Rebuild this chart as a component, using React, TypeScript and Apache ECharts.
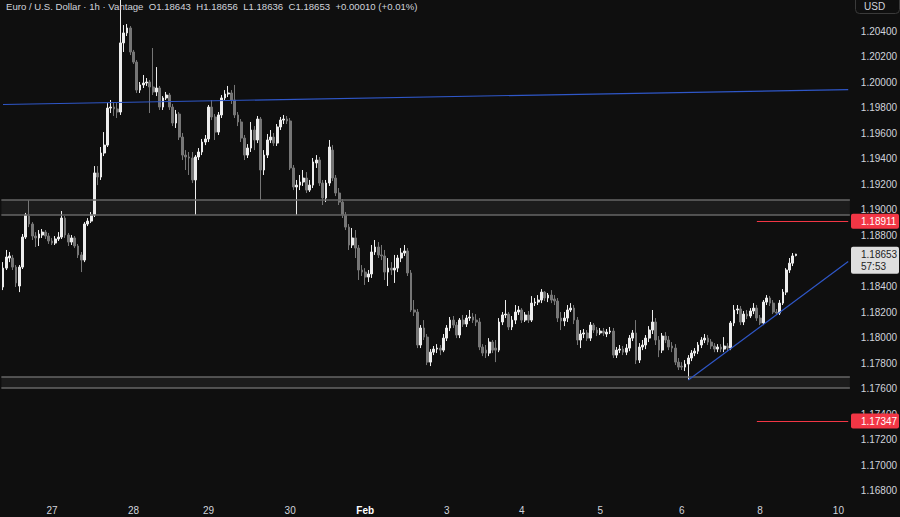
import React, { useEffect, useRef } from 'react';
import * as echarts from 'echarts';

// [open, close, low, high] hourly candles, EUR/USD
const candles: number[][] = [
  [1.18396,1.18544,1.18372,1.18591],[1.18544,1.18631,1.18529,1.18686],[1.18623,1.18639,1.18591,1.18670],[1.18623,1.18552,1.18529,1.18647],
  [1.18552,1.18428,1.18396,1.18568],[1.18404,1.18552,1.18356,1.18568],[1.18552,1.18787,1.18537,1.18811],[1.18787,1.18960,1.18772,1.18976],
  [1.18952,1.18889,1.18865,1.19077],[1.18889,1.18795,1.18764,1.18904],[1.18795,1.18780,1.18709,1.18826],[1.18780,1.18811,1.18717,1.18842],
  [1.18803,1.18826,1.18780,1.18850],[1.18826,1.18795,1.18772,1.18842],[1.18795,1.18756,1.18733,1.18819],[1.18756,1.18740,1.18725,1.18780],
  [1.18740,1.18772,1.18725,1.18795],[1.18772,1.18787,1.18756,1.18826],[1.18787,1.18936,1.18772,1.18991],[1.18936,1.18803,1.18780,1.18952],
  [1.18803,1.18748,1.18717,1.18819],[1.18748,1.18780,1.18725,1.18803],[1.18780,1.18717,1.18701,1.18795],[1.18717,1.18647,1.18623,1.18733],
  [1.18647,1.18607,1.18513,1.18670],[1.18607,1.18889,1.18591,1.18904],[1.18889,1.18912,1.18873,1.18936],[1.18912,1.18960,1.18897,1.18983],
  [1.18960,1.19289,1.18944,1.19343],[1.19289,1.19257,1.19194,1.19343],[1.19257,1.19445,1.19234,1.19492],[1.19445,1.19507,1.19421,1.19609],
  [1.19507,1.19797,1.19492,1.19836],[1.19797,1.19805,1.19758,1.19860],[1.19805,1.19790,1.19735,1.19844],[1.19790,1.19766,1.19719,1.19836],
  [1.19766,1.20307,1.19743,1.20650],[1.20307,1.20385,1.20236,1.20447],[1.20385,1.20424,1.20361,1.20455],[1.20424,1.20236,1.20212,1.20439],
  [1.20236,1.20157,1.20142,1.20252],[1.20157,1.19938,1.19915,1.20173],[1.19938,1.19978,1.19915,1.20001],[1.19978,1.19993,1.19954,1.20056],
  [1.19993,1.20001,1.19970,1.20032],[1.20001,1.19962,1.19758,1.20017],[1.19962,1.19923,1.19899,1.20267],[1.19923,1.19954,1.19891,1.20118],
  [1.19954,1.19805,1.19782,1.19970],[1.19805,1.19876,1.19782,1.19891],[1.19876,1.19899,1.19860,1.19923],[1.19899,1.19805,1.19782,1.19915],
  [1.19805,1.19680,1.19656,1.19829],[1.19680,1.19750,1.19641,1.19782],[1.19750,1.19570,1.19547,1.19766],[1.19570,1.19429,1.19390,1.19602],
  [1.19429,1.19414,1.19312,1.19468],[1.19414,1.19406,1.19273,1.19453],[1.19406,1.19234,1.19210,1.19453],[1.19234,1.19414,1.18960,1.19429],
  [1.19414,1.19453,1.19390,1.19484],[1.19453,1.19531,1.19429,1.19555],[1.19531,1.19555,1.19507,1.19586],[1.19555,1.19805,1.19531,1.19821],
  [1.19805,1.19727,1.19703,1.19860],[1.19727,1.19609,1.19547,1.19750],[1.19609,1.19743,1.19586,1.19766],[1.19743,1.19876,1.19719,1.19899],
  [1.19876,1.19907,1.19860,1.19938],[1.19907,1.19915,1.19883,1.19970],[1.19915,1.19860,1.19829,1.19938],[1.19860,1.19743,1.19719,1.19978],
  [1.19743,1.19688,1.19656,1.19766],[1.19688,1.19562,1.19531,1.19711],[1.19562,1.19429,1.19390,1.19586],[1.19429,1.19484,1.19406,1.19515],
  [1.19484,1.19625,1.19453,1.19688],[1.19625,1.19547,1.19468,1.19656],[1.19547,1.19711,1.19523,1.19735],[1.19711,1.19312,1.19077,1.19727],
  [1.19312,1.19429,1.19273,1.19468],[1.19429,1.19547,1.19406,1.19594],[1.19547,1.19570,1.19523,1.19625],[1.19570,1.19523,1.19500,1.19602],
  [1.19523,1.19649,1.19500,1.19672],[1.19649,1.19703,1.19625,1.19727],[1.19703,1.19711,1.19672,1.19743],[1.19711,1.19696,1.19672,1.19735],
  [1.19696,1.19328,1.19312,1.19719],[1.19328,1.19179,1.19155,1.19351],[1.19179,1.19194,1.18960,1.19234],[1.19194,1.19218,1.19155,1.19273],
  [1.19218,1.19249,1.19187,1.19312],[1.19249,1.19155,1.19132,1.19296],[1.19155,1.19194,1.19140,1.19234],[1.19194,1.19375,1.19171,1.19406],
  [1.19367,1.19390,1.19328,1.19429],[1.19390,1.19210,1.19187,1.19414],[1.19210,1.19093,1.19038,1.19234],[1.19093,1.19210,1.19061,1.19234],
  [1.19210,1.19492,1.19187,1.19547],[1.19468,1.19249,1.19226,1.19507],[1.19249,1.19132,1.19108,1.19273],[1.19132,1.19061,1.19038,1.19171],
  [1.19061,1.18960,1.18936,1.19085],[1.18960,1.18865,1.18842,1.18983],[1.18865,1.18725,1.18686,1.18889],[1.18725,1.18780,1.18701,1.18858],
  [1.18780,1.18701,1.18623,1.18842],[1.18701,1.18529,1.18451,1.18725],[1.18529,1.18513,1.18482,1.18568],[1.18513,1.18474,1.18412,1.18544],
  [1.18474,1.18498,1.18435,1.18529],[1.18498,1.18670,1.18467,1.18725],[1.18670,1.18709,1.18647,1.18764],[1.18709,1.18647,1.18623,1.18748],
  [1.18647,1.18639,1.18607,1.18725],[1.18639,1.18513,1.18451,1.18686],[1.18513,1.18544,1.18404,1.18623],[1.18544,1.18529,1.18490,1.18591],
  [1.18529,1.18544,1.18428,1.18647],[1.18544,1.18623,1.18513,1.18647],[1.18623,1.18662,1.18591,1.18701],[1.18662,1.18678,1.18639,1.18725],
  [1.18678,1.18506,1.18482,1.18701],[1.18506,1.18216,1.18200,1.18529],[1.18216,1.18200,1.18169,1.18294],[1.18200,1.17942,1.17918,1.18224],
  [1.17942,1.18075,1.17918,1.18098],[1.18075,1.18004,1.17981,1.18137],[1.18004,1.17808,1.17785,1.18028],[1.17808,1.17886,1.17777,1.17910],
  [1.17886,1.17910,1.17863,1.17934],[1.17910,1.17918,1.17879,1.17949],[1.17918,1.17902,1.17863,1.17942],[1.17902,1.17996,1.17886,1.18028],
  [1.17996,1.18075,1.17973,1.18098],[1.18075,1.18137,1.18051,1.18161],[1.18137,1.18098,1.18075,1.18169],[1.18098,1.18020,1.17996,1.18122],
  [1.18020,1.18137,1.17996,1.18153],[1.18137,1.18106,1.18083,1.18177],[1.18106,1.18153,1.18083,1.18177],[1.18153,1.18161,1.18130,1.18216],
  [1.18161,1.18137,1.18114,1.18192],[1.18137,1.18122,1.18090,1.18184],[1.18122,1.17926,1.17902,1.18153],[1.17926,1.17879,1.17855,1.17949],
  [1.17902,1.17879,1.17840,1.17942],[1.17879,1.17965,1.17855,1.17996],[1.17965,1.17902,1.17879,1.17981],[1.17918,1.17902,1.17808,1.17981],
  [1.17902,1.18122,1.17886,1.18153],[1.18122,1.18177,1.18098,1.18200],[1.18177,1.18184,1.18153,1.18294],[1.18184,1.18083,1.18059,1.18200],
  [1.18083,1.18137,1.18059,1.18169],[1.18137,1.18200,1.18106,1.18255],[1.18200,1.18216,1.18177,1.18247],[1.18216,1.18137,1.18114,1.18231],
  [1.18137,1.18177,1.18122,1.18200],[1.18177,1.18137,1.18114,1.18208],[1.18137,1.18270,1.18122,1.18325],[1.18270,1.18278,1.18247,1.18310],
  [1.18278,1.18294,1.18255,1.18333],[1.18294,1.18356,1.18270,1.18380],[1.18356,1.18310,1.18286,1.18364],[1.18310,1.18333,1.18278,1.18349],
  [1.18333,1.18294,1.18270,1.18372],[1.18302,1.18286,1.18255,1.18333],[1.18286,1.18153,1.18122,1.18310],[1.18153,1.18130,1.18059,1.18200],
  [1.18130,1.18153,1.18090,1.18200],[1.18153,1.18216,1.18122,1.18255],[1.18216,1.18231,1.18200,1.18270],[1.18231,1.18137,1.18106,1.18255],
  [1.18137,1.17981,1.17942,1.18161],[1.17981,1.18028,1.17918,1.18059],[1.18028,1.18036,1.17996,1.18067],[1.18036,1.17996,1.17973,1.18059],
  [1.17996,1.18098,1.17973,1.18122],[1.18098,1.18059,1.18036,1.18114],[1.18059,1.18036,1.18012,1.18083],[1.18036,1.18051,1.18020,1.18075],
  [1.18051,1.18036,1.18012,1.18075],[1.18028,1.18043,1.18004,1.18067],[1.18043,1.18051,1.18028,1.18083],[1.18051,1.17863,1.17840,1.18075],
  [1.17863,1.17902,1.17840,1.17926],[1.17902,1.17910,1.17879,1.17942],[1.17910,1.17886,1.17863,1.17934],[1.17886,1.17918,1.17863,1.17949],
  [1.17918,1.17996,1.17894,1.18020],[1.17996,1.18036,1.17973,1.18059],[1.18036,1.17824,1.17793,1.18137],[1.17824,1.17926,1.17801,1.17957],
  [1.17926,1.17942,1.17902,1.17981],[1.17942,1.17996,1.17910,1.18020],[1.17996,1.18059,1.17965,1.18090],[1.18059,1.18122,1.18028,1.18216],
  [1.18122,1.17981,1.17942,1.18153],[1.17981,1.17902,1.17847,1.18012],[1.17902,1.18012,1.17879,1.18036],[1.18012,1.17981,1.17957,1.18043],
  [1.17981,1.17926,1.17902,1.18012],[1.17934,1.17918,1.17886,1.17965],[1.17918,1.17808,1.17785,1.17949],[1.17808,1.17769,1.17746,1.17840],
  [1.17777,1.17769,1.17746,1.17808],[1.17769,1.17793,1.17738,1.17824],[1.17793,1.17840,1.17668,1.17863],[1.17840,1.17879,1.17816,1.17902],
  [1.17879,1.17894,1.17855,1.17918],[1.17894,1.17942,1.17871,1.17965],[1.17942,1.17981,1.17918,1.18004],[1.17981,1.17996,1.17957,1.18028],
  [1.17996,1.17965,1.17942,1.18020],[1.17965,1.17934,1.17910,1.17989],[1.17934,1.17910,1.17886,1.17957],[1.17910,1.17926,1.17886,1.17949],
  [1.17926,1.17910,1.17886,1.17949],[1.17910,1.17934,1.17886,1.18004],[1.17934,1.17918,1.17894,1.17957],[1.17918,1.18114,1.17902,1.18130],
  [1.18114,1.18216,1.18090,1.18255],[1.18216,1.18224,1.18184,1.18255],[1.18224,1.18122,1.18098,1.18247],[1.18122,1.18184,1.18098,1.18208],
  [1.18184,1.18169,1.18145,1.18216],[1.18169,1.18208,1.18153,1.18231],[1.18208,1.18231,1.18184,1.18270],[1.18231,1.18153,1.18130,1.18255],
  [1.18153,1.18114,1.18098,1.18177],[1.18114,1.18278,1.18098,1.18294],[1.18278,1.18310,1.18255,1.18333],[1.18310,1.18270,1.18247,1.18325],
  [1.18270,1.18200,1.18184,1.18294],[1.18200,1.18192,1.18177,1.18224],[1.18192,1.18270,1.18177,1.18294],[1.18270,1.18356,1.18255,1.18380],
  [1.18356,1.18529,1.18333,1.18544],[1.18529,1.18583,1.18506,1.18623],[1.18583,1.18639,1.18560,1.18662],[1.18643,1.18653,1.18636,1.18656],
];

const slotCount = 260;
const tickIndex = [15, 40, 63, 88, 111, 136, 159, 183, 208, 232, 256];
const tickLabel = ['27', '28', '29', '30', 'Feb', '3', '4', '5', '6', '8', '10'];
const priceTicks = [1.168, 1.17, 1.172, 1.174, 1.176, 1.178, 1.18, 1.182, 1.184, 1.188, 1.19, 1.192, 1.194, 1.196, 1.198, 1.2, 1.202, 1.204];
const yMin = 1.16752;
const yMax = 1.20643;

const zoneUpper = [1.19077, 1.1896];
const zoneLower = [1.17691, 1.17605];
const resistanceLine = [[0, 1.19825], [259, 1.19942]];
const trendLine = [[210, 1.17668], [259, 1.18595]];
const alertLevels = [1.18911, 1.17347];
const alertStart = 231;

const lastOpen = 1.18643;
const lastHigh = 1.18656;
const lastLow = 1.18636;
const lastClose = 1.18653;
const lastChange = 0.0001;
const lastChangePct = 0.01;
const countdown = '57:53';

const FONT = '"Liberation Sans", Arial, sans-serif';
const BG = '#0f0f0f';
const UP = '#ededed';
const DOWN = '#767676';
const ZONE_LINE = '#666666';
const BLUE = '#2f57c8';
const RED = '#f23645';
const TEXT = '#d1d4dc';

export default function App() {
  const ref = useRef<HTMLDivElement>(null);

  useEffect(() => {
    if (!ref.current) return;
    const chart = echarts.init(ref.current, undefined, { renderer: 'svg' });
    const categories = Array.from({ length: slotCount }, (_, i) => String(i));
    const tickMap = new Map<number, string>();
    tickIndex.forEach((idx, k) => tickMap.set(idx, tickLabel[k]));

    const zoneLineStyle = { color: ZONE_LINE, width: 1.5, type: 'solid' as const };

    const option: any = {
      animation: false,
      backgroundColor: BG,
      textStyle: { fontFamily: FONT },
      grid: { left: 0, right: 50, top: 0, bottom: 20, containLabel: false },
      xAxis: {
        type: 'category',
        data: categories,
        boundaryGap: true,
        axisLine: { show: false },
        axisTick: { show: false },
        splitLine: { show: false },
        axisLabel: {
          interval: 0,
          color: TEXT,
          fontSize: 10,
          margin: 8,
          formatter: (_v: string, idx: number) => {
            const t = tickMap.get(idx);
            if (!t) return '';
            return t === 'Feb' ? '{b|Feb}' : t;
          },
          rich: { b: { color: '#ffffff', fontWeight: 'bold', fontSize: 10, fontFamily: FONT } },
        },
      },
      yAxis: {
        type: 'value',
        position: 'right',
        min: yMin,
        max: yMax,
        axisLine: { show: false },
        axisTick: { show: false },
        splitLine: { show: false },
        axisLabel: {
          customValues: priceTicks,
          formatter: (v: number) => v.toFixed(5),
          color: TEXT,
          fontSize: 10,
          margin: 11,
          align: 'left',
        },
      },
      series: [
        {
          type: 'candlestick',
          data: candles,
          barWidth: '70%',
          itemStyle: {
            color: UP,
            color0: DOWN,
            borderColor: UP,
            borderColor0: DOWN,
            borderWidth: 1,
          },
          markArea: {
            silent: true,
            itemStyle: { color: '#1c1c1c' },
            data: [
              [{ yAxis: zoneUpper[0] }, { yAxis: zoneUpper[1] }],
              [{ yAxis: zoneLower[0] }, { yAxis: zoneLower[1] }],
            ],
          },
          markLine: {
            silent: true,
            precision: 6,
            symbol: ['none', 'none'],
            label: { show: false },
            data: [
              ...[...zoneUpper, ...zoneLower].map((v) => ({ yAxis: v, lineStyle: zoneLineStyle })),
              [
                { xAxis: resistanceLine[0][0], yAxis: resistanceLine[0][1], lineStyle: { color: BLUE, width: 1.2, type: 'solid' } },
                { xAxis: resistanceLine[1][0], yAxis: resistanceLine[1][1] },
              ],
              [
                { xAxis: trendLine[0][0], yAxis: trendLine[0][1], lineStyle: { color: BLUE, width: 1.2, type: 'solid' } },
                { xAxis: trendLine[1][0], yAxis: trendLine[1][1] },
              ],
              ...alertLevels.map((v) => [
                { xAxis: alertStart, yAxis: v, lineStyle: { color: RED, width: 1, type: 'solid' } },
                { xAxis: slotCount - 1, yAxis: v },
              ]),
            ],
          },
        },
      ],
    };
    chart.setOption(option);

    const yOf = (p: number) => chart.convertToPixel({ yAxisIndex: 0 }, p) as number;
    const fmt = (v: number) => v.toFixed(5);
    const title =
      `Euro / U.S. Dollar · 1h · Vantage  O${fmt(lastOpen)}  H${fmt(lastHigh)}  L${fmt(lastLow)}  C${fmt(lastClose)}  ` +
      `${lastChange >= 0 ? '+' : ''}${fmt(lastChange)} (${lastChange >= 0 ? '+' : ''}${lastChangePct.toFixed(2)}%)`;

    const graphics: any[] = [
      {
        type: 'text', left: 6, top: 1, z: 100,
        style: { text: title, fill: TEXT, font: `9.6px ${FONT}` },
      },
      {
        type: 'rect', z: 100,
        shape: { x: 855.5, y: -4.5, width: 44, height: 18, r: 4 },
        style: { fill: BG, stroke: '#3a3a3a', lineWidth: 1 },
      },
      {
        type: 'text', z: 101, x: 864, y: 1,
        style: { text: 'USD', fill: TEXT, font: `10px ${FONT}` },
      },
    ];
    alertLevels.forEach((v) => {
      const py = yOf(v);
      graphics.push({
        type: 'rect', z: 100,
        shape: { x: 851, y: py - 7.5, width: 48, height: 15, r: 2 },
        style: { fill: RED },
      });
      graphics.push({
        type: 'text', z: 101, x: 861, y: py,
        style: { text: fmt(v), fill: '#ffffff', font: `10px ${FONT}`, verticalAlign: 'middle' },
      });
    });
    const cy = yOf(lastClose);
    graphics.push({
      type: 'rect', z: 100,
      shape: { x: 851, y: cy - 7.5, width: 48, height: 27, r: 2 },
      style: { fill: '#dedede' },
    });
    graphics.push({
      type: 'text', z: 101, x: 861, y: cy,
      style: { text: fmt(lastClose), fill: '#1e1e1e', font: `10px ${FONT}`, verticalAlign: 'middle' },
    });
    graphics.push({
      type: 'text', z: 101, x: 861, y: cy + 12,
      style: { text: countdown, fill: '#1e1e1e', font: `10px ${FONT}`, verticalAlign: 'middle' },
    });
    chart.setOption({ graphic: graphics });

    return () => chart.dispose();
  }, []);

  return <div ref={ref} style={{ position: 'fixed', left: 0, top: 0, width: 900, height: 517 }} />;
}
